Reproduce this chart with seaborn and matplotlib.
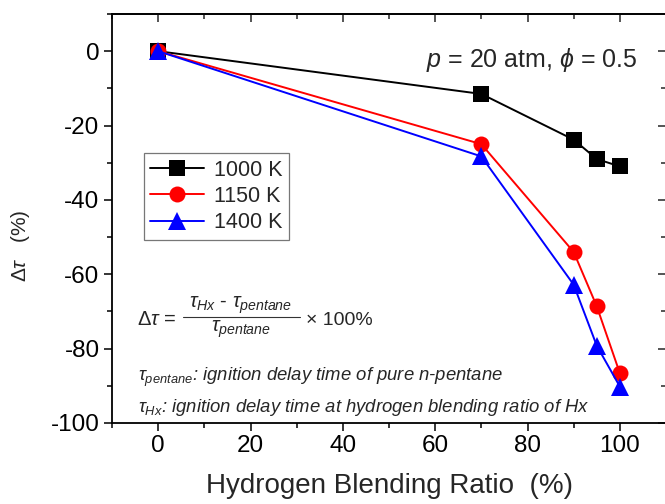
import numpy as np
import pandas as pd
import matplotlib
matplotlib.use("Agg")
import matplotlib.pyplot as plt
import seaborn as sns
from matplotlib.ticker import MultipleLocator
from matplotlib.lines import Line2D

# ---- data ----
ratio = [0, 70, 90, 95, 100]
dtau_1000 = [0, -11.5, -23.8, -29.0, -31.0]
dtau_1150 = [0, -25.0, -54.0, -68.6, -86.6]
dtau_1400 = [0, -28.3, -62.8, -79.2, -90.2]
series_labels = ["1000 K", "1150 K", "1400 K"]
x_ticks = [0, 20, 40, 60, 80, 100]
y_ticks = [0, -20, -40, -60, -80, -100]

df = pd.DataFrame({
    "ratio": ratio * 3,
    "dtau": dtau_1000 + dtau_1150 + dtau_1400,
    "T": [series_labels[0]] * 5 + [series_labels[1]] * 5 + [series_labels[2]] * 5,
})

sns.set_style("ticks")
plt.rcParams["font.family"] = ["Liberation Sans", "DejaVu Sans"]
plt.rcParams["mathtext.fontset"] = "custom"
plt.rcParams["mathtext.rm"] = "Liberation Sans"
plt.rcParams["mathtext.it"] = "Liberation Sans:italic"
plt.rcParams["mathtext.bf"] = "Liberation Sans:bold"
plt.rcParams["axes.unicode_minus"] = False

fig = plt.figure(figsize=(6.65, 5.04), dpi=100)
ax = fig.add_axes([112 / 665, 1 - 423 / 504, 554 / 665, 409 / 504])

palette = {"1000 K": "black", "1150 K": "red", "1400 K": "blue"}
markers = {"1000 K": "s", "1150 K": "o", "1400 K": "^"}
sns.lineplot(data=df, x="ratio", y="dtau", hue="T", style="T",
             hue_order=series_labels, style_order=series_labels,
             palette=palette, markers=markers, dashes=False,
             estimator=None, sort=False, legend=False,
             linewidth=1.4, markersize=11, mew=0, ax=ax)

lines = ax.lines[:3]
lines[1].set_markersize(11.5)
lines[2].set_markersize(13.5)
for ln in lines:
    ln.set_markeredgewidth(0)

ax.set_xlim(-10, 110)
ax.set_ylim(-100, 10)
ax.set_xticks(x_ticks)
ax.set_yticks(y_ticks)
ax.xaxis.set_minor_locator(MultipleLocator(10))
ax.yaxis.set_minor_locator(MultipleLocator(10))
ax.tick_params(axis="both", which="major", direction="out", length=6, width=1.1,
               labelsize=17.5, pad=3, color="black", labelcolor="black")
ax.tick_params(axis="both", which="minor", direction="out", length=3.5, width=1.1,
               color="black")
for s in ax.spines.values():
    s.set_linewidth(1.3)
    s.set_color("black")
    s.set_visible(True)

secx = ax.secondary_xaxis("top")
secx.set_xticks(x_ticks)
secx.xaxis.set_minor_locator(MultipleLocator(10))
secx.tick_params(axis="x", which="major", direction="in", length=6, width=1.1, labeltop=False)
secx.tick_params(axis="x", which="minor", direction="in", length=3.5, width=1.1)
secx.spines["top"].set_linewidth(1.3)
secy = ax.secondary_yaxis("right")
secy.set_yticks(y_ticks)
secy.yaxis.set_minor_locator(MultipleLocator(10))
secy.tick_params(axis="y", which="major", direction="in", length=6, width=1.1, labelright=False)
secy.tick_params(axis="y", which="minor", direction="in", length=3.5, width=1.1)

ax.set_xlabel("Hydrogen Blending Ratio  (%)", fontsize=20, labelpad=11)
ax.set_ylabel("")
fig.text(21 / 665, 1 - 246 / 504, r"$\mathit{Δτ}$   (%)", rotation=90,
         fontsize=15, ha="center", va="center")

leg = ax.legend(handles=lines, labels=series_labels, loc="upper left",
                bbox_to_anchor=(0.0578, 0.660), borderaxespad=0,
                fontsize=15.5, frameon=True, fancybox=False, framealpha=1,
                handlelength=2.5, handletextpad=0.45, labelspacing=0.25,
                borderpad=0.3)
leg.get_frame().set_edgecolor("#777777")
leg.get_frame().set_linewidth(0.9)

ax.text(0.9477, 0.870, r"$p$ = 20 atm, $\phi$ = 0.5", transform=ax.transAxes,
        ha="right", va="baseline", fontsize=18)

# formula, built from pieces
ff = 14.5
tf = fig.transFigure
fig.text(137 / 665, 1 - 325 / 504, r"$\mathit{Δτ}$ =", ha="left", va="baseline", fontsize=ff)
fig.text(241 / 665, 1 - 308 / 504, r"$τ_{Hx}$ - $τ_{pentane}$", ha="center", va="baseline", fontsize=ff)
fig.add_artist(Line2D([183 / 665, 300 / 665], [1 - 317 / 504, 1 - 317 / 504],
                      transform=tf, color="#333333", linewidth=0.8))
fig.text(241 / 665, 1 - 332 / 504, r"$τ_{pentane}$", ha="center", va="baseline", fontsize=ff)
fig.text(306 / 665, 1 - 325 / 504, "× 100%", ha="left", va="baseline", fontsize=14)

fig.text(138 / 665, 1 - 381 / 504, r"$τ_{pentane}$: ignition delay time of pure n-pentane",
         ha="left", va="baseline", fontsize=13.3, style="italic")
fig.text(138 / 665, 1 - 412 / 504, r"$τ_{Hx}$: ignition delay time at hydrogen blending ratio of Hx",
         ha="left", va="baseline", fontsize=13.3, style="italic")

fig.savefig("out.png", dpi=100)
